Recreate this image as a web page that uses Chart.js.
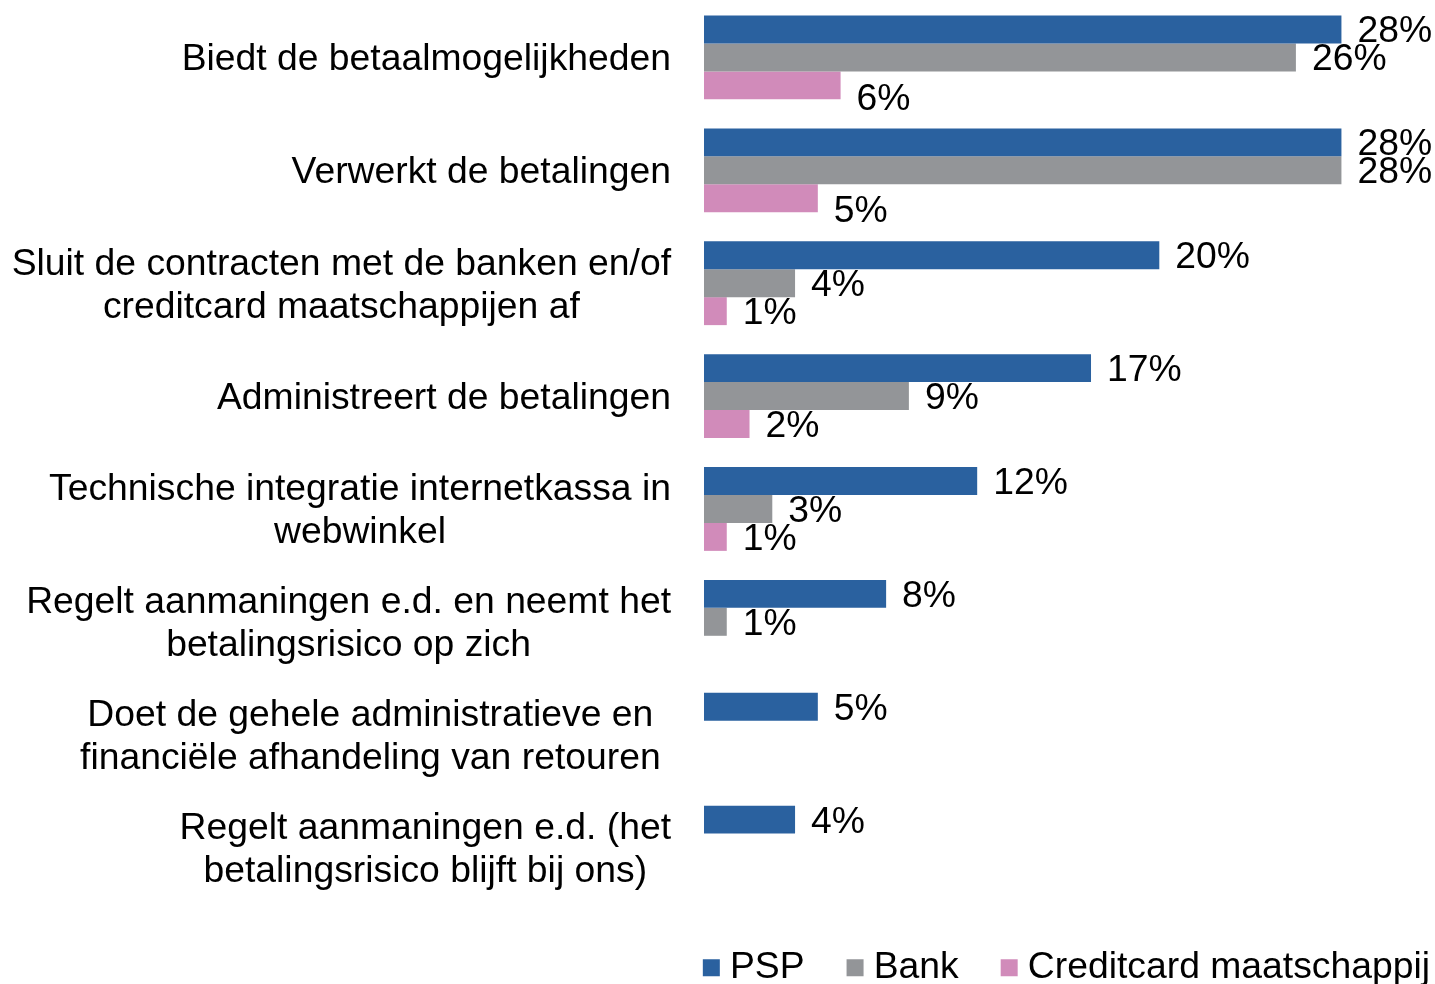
<!DOCTYPE html>
<html><head><meta charset="utf-8">
<script src="https://cdn.jsdelivr.net/npm/chart.js@4.4.1/dist/chart.umd.min.js"></script>
<style>html,body{margin:0;padding:0;background:#fff}#wrap{width:1435px;height:984px;position:relative}canvas{display:block}</style>
</head><body><div id="wrap"><canvas id="c" width="1435" height="984"></canvas></div>
<script>
const categories = [
  ["Biedt de betaalmogelijkheden"],
  ["Verwerkt de betalingen"],
  ["Sluit de contracten met de banken en/of", "creditcard maatschappijen af"],
  ["Administreert de betalingen"],
  ["Technische integratie internetkassa in", "webwinkel"],
  ["Regelt aanmaningen e.d. en neemt het", "betalingsrisico op zich"],
  ["Doet de gehele administratieve en ", "financiële afhandeling van retouren "],
  ["Regelt aanmaningen e.d. (het", "betalingsrisico blijft bij ons)"]
];
const seriesNames = ["PSP", "Bank", "Creditcard maatschappij"];
const pspValues = [28, 28, 20, 17, 12, 8, 5, 4];
const bankValues = [26, 28, 4, 9, 3, 1, 0, 0];
const creditcardValues = [6, 5, 1, 2, 1, 0, 0, 0];
const seriesColors = ["#2A619F", "#939598", "#D18BBA"];

const FONT = '"Liberation Sans", Arial, sans-serif';
const FS = 37.3;
Chart.defaults.font.family = FONT;

const valueLabels = {
  id: 'valueLabels',
  afterDatasetsDraw(chart, args, opts) {
    const ctx = chart.ctx;
    ctx.save();
    ctx.font = FS + 'px ' + FONT;
    ctx.fillStyle = '#000';
    ctx.textAlign = 'left';
    ctx.textBaseline = 'alphabetic';
    chart.data.datasets.forEach((ds, di) => {
      const meta = chart.getDatasetMeta(di);
      meta.data.forEach((el, i) => {
        const v = ds.data[i];
        if (!v) return;
        const shift = (opts.shifts[di] && opts.shifts[di][i]) || 0;
        ctx.fillText(v + '%', el.x + 16, el.y + 13 + shift);
      });
    });
    ctx.restore();
  }
};

const categoryLabels = {
  id: 'categoryLabels',
  afterDraw(chart) {
    const ctx = chart.ctx;
    const ys = chart.scales.y;
    const right = chart.chartArea.left - 33;
    ctx.save();
    ctx.font = FS + 'px ' + FONT;
    ctx.fillStyle = '#000';
    ctx.textAlign = 'center';
    ctx.textBaseline = 'alphabetic';
    categories.forEach((lines, i) => {
      const y = ys.getPixelForValue(i);
      const w = Math.max(...lines.map(l => ctx.measureText(l).width));
      const cx = right - w / 2;
      const n = lines.length;
      lines.forEach((l, j) => {
        const ly = y + (j - (n - 1) / 2) * 43;
        ctx.fillText(l, cx, ly + 13);
      });
    });
    ctx.restore();
  }
};

new Chart(document.getElementById('c'), {
  type: 'bar',
  data: {
    labels: categories.map(c => c.join(' ').trim()),
    datasets: [
      { label: seriesNames[0], data: pspValues, backgroundColor: seriesColors[0] },
      { label: seriesNames[1], data: bankValues, backgroundColor: seriesColors[1] },
      { label: seriesNames[2], data: creditcardValues, backgroundColor: seriesColors[2] }
    ].map(d => Object.assign(d, { borderWidth: 0, categoryPercentage: 0.743, barPercentage: 1 }))
  },
  options: {
    indexAxis: 'y',
    responsive: false,
    animation: false,
    devicePixelRatio: 1,
    layout: { padding: { left: 0, right: -4, top: 1, bottom: -12.5 } },
    scales: {
      x: {
        display: true, min: 0, max: 32.11,
        grid: { display: false }, border: { display: false }, ticks: { display: false },
        afterFit(s) { s.height = 36.2; }
      },
      y: {
        display: true,
        grid: { display: false }, border: { display: false }, ticks: { display: false },
        afterFit(s) { s.width = 704; }
      }
    },
    plugins: {
      tooltip: { enabled: false },
      valueLabels: { shifts: { 2: { 0: 12, 1: 11 } } },
      legend: {
        position: 'bottom',
        align: 'end',
        labels: {
          usePointStyle: true,
          pointStyle: 'rect',
          boxWidth: 0.01,
          boxHeight: 17,
          padding: 9,
          color: '#000',
          font: { size: FS, family: FONT },
          generateLabels(chart) {
            const items = Chart.defaults.plugins.legend.labels.generateLabels(chart);
            items.forEach((it, i) => {
              it.pointStyle = 'rect';
              it.lineWidth = 0;
              if (i < items.length - 1) it.text = it.text + '    ';
            });
            return items;
          }
        }
      }
    }
  },
  plugins: [valueLabels, categoryLabels]
});
</script>
</body></html>
